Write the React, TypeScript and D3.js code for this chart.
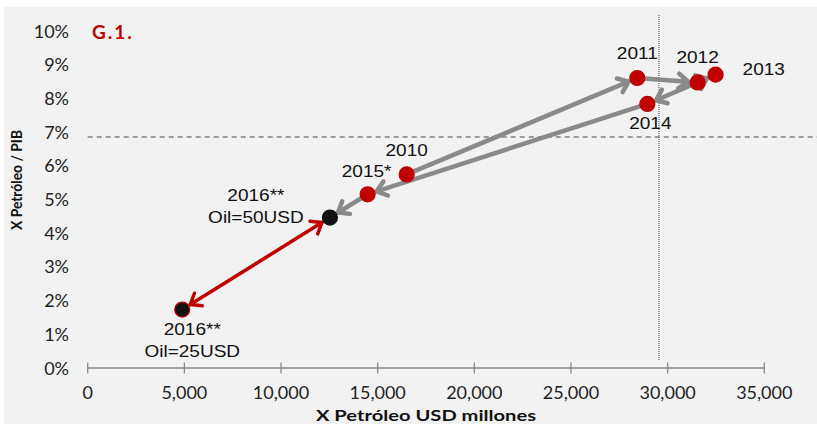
import React from "react";
import * as d3 from "d3";

const years = ["2010", "2011", "2012", "2013", "2014", "2015*", "2016**", "2016**"];
const exportsUSD = [16500, 28430, 31550, 32480, 28950, 14480, 12530, 4890];
const exportsGDP = [0.0573, 0.0859, 0.0846, 0.0869, 0.0782, 0.0514, 0.0445, 0.0172];
const scenario = ["", "", "", "", "", "", "Oil=50USD", "Oil=25USD"];
const xTicks = [0, 5000, 10000, 15000, 20000, 25000, 30000, 35000];
const yTicks = [0, 0.01, 0.02, 0.03, 0.04, 0.05, 0.06, 0.07, 0.08, 0.09, 0.1];
const refX = 29550;
const refY = 0.0684;
const grayPath = [0, 1, 2, 3, 4, 5, 6];
const redPath = [6, 7];

// label layout (text centre offsets from point)
const labelOffsets: [number, number, string][] = [
  [0, -24, "middle"],
  [0, -25, "middle"],
  [0, -25, "middle"],
  [27, -5, "start"],
  [3, 19, "middle"],
  [-1, -23, "middle"],
  [-74, -22, "middle"],
  [10, 20, "middle"],
];

const W = 817;
const H = 424;
const RED = "#c00000";
const GRAY = "#8a8a8a";

export default function App() {
  const x = d3.scaleLinear().domain([0, 35000]).range([87.7, 764.3]);
  const y = d3.scaleLinear().domain([0, 0.1]).range([367.5, 30.5]);
  const fmt = d3.format(",");
  const pts = exportsUSD.map((v, i) => [x(v), y(exportsGDP[i])] as [number, number]);
  const r = 7.5;

  const arrow = (a: [number, number], b: [number, number], color: string, w: number, both: boolean, key: string) => {
    const dx = b[0] - a[0];
    const dy = b[1] - a[1];
    const len = Math.hypot(dx, dy);
    const ux = dx / len;
    const uy = dy / len;
    const sh = r + 2;
    const e: [number, number] = [b[0] - ux * sh, b[1] - uy * sh];
    const s: [number, number] = both ? [a[0] + ux * sh, a[1] + uy * sh] : a;
    const head = (p: [number, number], ax: number, ay: number) => {
      const L = 12;
      const ang = (38 * Math.PI) / 180;
      const c = Math.cos(ang);
      const sn = Math.sin(ang);
      const bx = -ax;
      const by = -ay;
      const p1 = [p[0] + L * (bx * c - by * sn), p[1] + L * (bx * sn + by * c)];
      const p2 = [p[0] + L * (bx * c + by * sn), p[1] + L * (-bx * sn + by * c)];
      return `M${p1[0]},${p1[1]}L${p[0]},${p[1]}L${p2[0]},${p2[1]}`;
    };
    return (
      <g key={key} stroke={color} strokeWidth={w} fill="none" strokeLinecap="round" strokeLinejoin="round">
        <line x1={s[0]} y1={s[1]} x2={e[0]} y2={e[1]} />
        <path d={head(e, ux, uy)} />
        {both && <path d={head(s, -ux, -uy)} />}
      </g>
    );
  };

  const labelFont = "'Liberation Sans', Arial, sans-serif";
  const tickFont = "Lato, 'Noto Sans', sans-serif";

  return (
    <svg width={W} height={H} style={{ position: "absolute", left: 0, top: 0 }}>
      <rect x={0} y={0} width={W} height={H} fill="#ffffff" />
      <rect x={4} y={7} width={W - 4} height={H - 7} fill="#f2f2f2" />

      {/* reference lines */}
      <line x1={x(0)} x2={W} y1={y(refY)} y2={y(refY)} stroke="#444" strokeWidth={1} strokeDasharray="5,4" />
      <line x1={x(refX)} x2={x(refX)} y1={15} y2={361} stroke="#444" strokeWidth={1} strokeDasharray="1,1" />

      {/* x axis */}
      <line x1={x(0)} x2={x(35000)} y1={y(0) + 0.5} y2={y(0) + 0.5} stroke="#8a8a8a" strokeWidth={1.3} />
      {xTicks.map((t) => (
        <g key={t}>
          <line x1={x(t)} x2={x(t)} y1={y(0) - 5} y2={y(0) + 6} stroke="#8a8a8a" strokeWidth={1.3} />
          <text x={x(t)} y={392} textAnchor="middle" dominantBaseline="central" fontFamily={tickFont} fontSize={18} fill="#222">
            {fmt(t)}
          </text>
        </g>
      ))}
      {yTicks.map((t) => (
        <text key={t} x={69} y={y(t)} textAnchor="end" dominantBaseline="central" fontFamily={tickFont} fontSize={18} fill="#222">
          {d3.format(".0%")(t)}
        </text>
      ))}

      <text x={426} y={414} textAnchor="middle" dominantBaseline="central" fontFamily={tickFont} fontWeight="bold" fontSize={16} fill="#111" textLength={220} lengthAdjust="spacingAndGlyphs">
        X Petróleo USD millones
      </text>
      <text transform="translate(16,180) rotate(-90)" textAnchor="middle" dominantBaseline="central" fontFamily={tickFont} fontWeight="bold" fontSize={15} fill="#111" textLength={100} lengthAdjust="spacingAndGlyphs">
        X Petróleo / PIB
      </text>

      <text x={92} y={31} dominantBaseline="central" fontFamily={tickFont} fontWeight="bold" fontSize={19} fill={RED} letterSpacing={2}>
        G.1.
      </text>

      {/* arrows */}
      {grayPath.slice(0, -1).map((i, k) => arrow(pts[i], pts[grayPath[k + 1]], GRAY, 4.5, false, "g" + k))}
      {arrow(pts[redPath[0]], pts[redPath[1]], RED, 3.5, true, "red")}

      {/* points */}
      {pts.map((p, i) => (
        <circle key={i} cx={p[0]} cy={p[1]} r={r} fill={scenario[i] ? "#111" : RED} stroke={i === 7 ? RED : scenario[i] ? "#111" : RED} strokeWidth={1.2} />
      ))}

      {/* labels */}
      {pts.map((p, i) => {
        const [dx, dy, anchor] = labelOffsets[i];
        const lx = p[0] + dx;
        const ly = p[1] + dy;
        return (
          <g key={"l" + i} transform={`translate(${lx},${ly}) scale(1.12,1)`}>
            <text x={0} y={0} textAnchor={anchor as any} dominantBaseline="central" fontFamily={labelFont} fontSize={17} fill="#111">
              {years[i]}
            </text>
            {scenario[i] && (
              <text x={0} y={21.5} textAnchor="middle" dominantBaseline="central" fontFamily={labelFont} fontSize={17} fill="#111">
                {scenario[i]}
              </text>
            )}
          </g>
        );
      })}
    </svg>
  );
}
